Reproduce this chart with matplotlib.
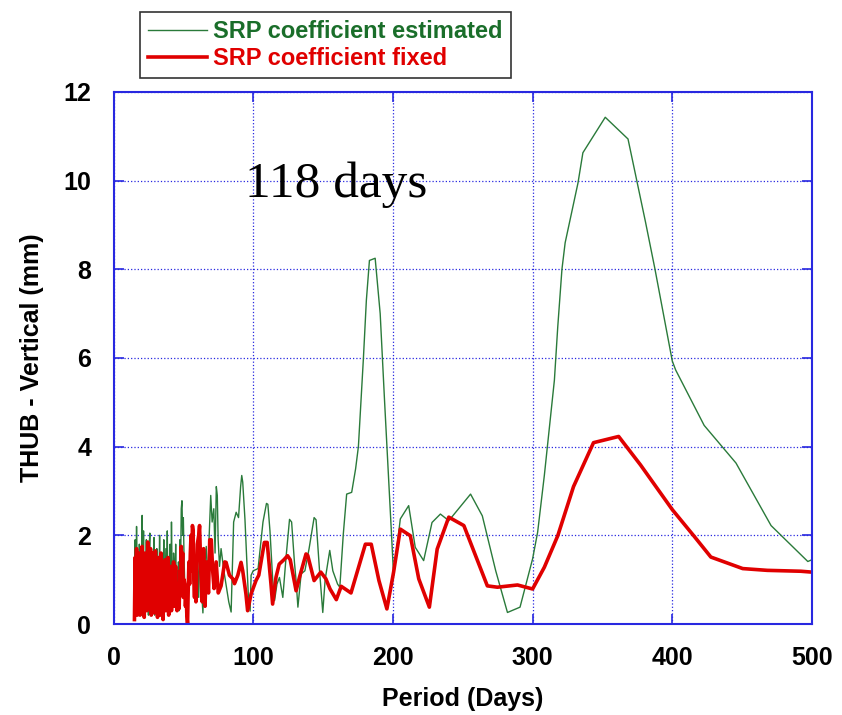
import numpy as np
import matplotlib.pyplot as plt

plt.rcParams['font.family'] = ['Liberation Sans', 'DejaVu Sans']

# dense part of the spectrum (15 - 60 days, every half day)
dense_start = 15.0
dense_step = 0.5
g_dense = [0.3, 1.9, 0.2, 2.2, 0.5, 1.4, 0.3, 1.8, 0.6, 1.2, 0.2, 2.45, 0.7, 2.1, 0.3, 1.5,
           0.9, 1.9, 0.4, 1.3, 0.2, 1.7, 2.05, 0.5, 1.2, 0.3, 1.6, 0.8, 1.95, 0.2, 1.1, 0.5,
           1.7, 0.3, 1.4, 0.9, 2.0, 0.4, 1.2, 0.15, 1.6, 0.7, 1.9, 0.3, 1.0, 1.7, 0.5, 2.1,
           0.2, 1.3, 0.6, 1.8, 0.3, 2.3, 1.0, 0.4, 1.6, 1.3, 0.7, 1.8, 0.5, 1.2, 0.6, 1.4,
           0.3, 1.9, 1.2, 2.6, 2.78, 2.0, 2.4, 1.5, 0.9, 0.5, 0.9, 0.3, 0.1, 0.6, 1.2, 1.0,
           1.5, 1.7, 1.4, 1.6, 1.1, 0.8, 1.3, 0.6, 1.2, 0.9, 1.6]
r_dense = [0.1, 1.5, 0.3, 1.7, 0.2, 1.2, 0.5, 1.6, 0.2, 1.3, 0.6, 1.75, 0.3, 1.4, 0.15, 1.6,
           0.5, 1.1, 0.3, 1.85, 0.4, 1.5, 0.8, 1.7, 0.2, 1.3, 0.6, 1.6, 0.25, 1.0, 1.65, 0.3,
           1.2, 0.15, 1.5, 0.6, 1.1, 0.2, 1.6, 0.5, 1.3, 0.1, 1.0, 0.4, 1.45, 0.3, 1.2, 0.7,
           1.5, 0.2, 0.9, 0.5, 1.3, 0.3, 1.0, 0.6, 1.4, 0.4, 0.9, 1.3, 0.6, 0.3, 0.9, 0.5,
           0.35, 1.2, 0.8, 1.75, 1.2, 1.6, 0.6, 1.0, 0.9, 0.4, 0.7, 0.2, 0.0, 0.8, 1.4, 0.9,
           1.6, 2.0, 1.2, 2.22, 2.1, 1.0, 0.6, 1.3, 0.5, 1.1, 1.8]

# sparse part (period, amplitude)
g_per = [61, 62, 63, 64, 65, 66.4, 67.5, 68.5, 69.6, 70.6, 71.8, 72.7, 73.6, 74.3, 74.9,
         75.9, 77, 79, 81, 82.5, 84.2, 86, 87.8, 89.5, 91, 91.8, 92.5, 94.1, 95.5, 96.5,
         97.8, 98.5, 100, 103.5, 107, 109.5, 110.5, 112, 114, 115.3, 117, 118.8, 121.2,
         123.5, 126, 127.5, 129.5, 130.7, 132, 134.3, 137, 140, 143.6, 145, 147.4, 149.8,
         151.5, 154.8, 157, 160.4, 162, 164.5, 166.9, 170.5, 173.3, 175.3, 177.2, 178.9,
         181, 183.2, 187.3, 190.9, 194, 197.6, 199.3, 200.5, 205.3, 211.3, 216, 222, 228,
         234, 240, 255.6, 264, 273.6, 282, 291, 300, 303.6, 308.4, 313.2, 315.6, 318,
         321, 323.3, 332.5, 336, 352, 368.3, 380.8, 387.5, 400, 402.4, 422.8, 445.6,
         470.7, 497, 500]
g_amp = [0.6, 2.0, 0.8, 0.25, 1.2, 1.75, 0.9, 2.0, 2.9, 2.3, 2.6, 1.6, 3.1, 2.9, 1.9,
         1.3, 1.7, 1.2, 0.8, 0.5, 0.27, 2.3, 2.52, 2.4, 3.1, 3.35, 3.2, 2.36, 1.4, 0.66,
         0.29, 1.1, 1.2, 1.25, 2.3, 2.72, 2.7, 2.1, 0.98, 0.53, 0.9, 1.05, 0.6,
         1.5, 2.36, 2.3, 1.4, 0.98, 0.38, 1.13, 1.2, 1.7, 2.4, 2.35, 1.24, 0.26,
         1.0, 1.66, 1.2, 0.9, 0.83, 2.03, 2.93, 2.97, 3.5, 4.0, 5.05, 6.0,
         7.3, 8.2, 8.25, 7.0, 5.05, 2.9, 1.84, 1.09, 2.37, 2.67, 1.73, 1.43, 2.29,
         2.48, 2.33, 2.93, 2.44, 1.2, 0.26, 0.38, 1.47, 2.07, 3.35, 4.77, 5.5, 6.7,
         8.0, 8.6, 9.95, 10.63, 11.43, 10.94, 9.07, 8.02, 5.93, 5.73, 4.48, 3.63,
         2.22, 1.41, 1.45]

r_per = [61, 61.6, 62.5, 63.5, 64.5, 65.5, 66.5, 68, 68.9, 70, 71, 72, 73.5, 75, 77,
         79.6, 80.6, 83, 85.4, 86.6, 89, 91.3, 92.5, 94.8, 96, 98.5, 102, 104, 108, 110,
         112.7, 113.9, 116.3, 118.6, 122, 124.6, 126.5, 130.7, 133.1, 137.8, 139, 143.6,
         148.4, 152, 155, 159.5, 163, 170, 180.3, 184.5, 190, 195.7, 200.5, 205.3, 212.5,
         218.5, 226.1, 231.7, 240, 250.8, 267.6, 274.8, 289.2, 300, 308.4, 318, 329.3,
         343.6, 361.6, 377.2, 400, 415.6, 427.6, 450.4, 468, 492, 500]
r_amp = [2.0, 2.22, 1.2, 0.5, 1.7, 0.4, 1.4, 0.7, 1.9, 1.9, 1.2, 0.8, 1.4, 0.7, 0.86,
         1.4, 1.39, 1.1, 1.02, 0.91, 1.1, 1.39, 1.2, 0.68, 0.3, 0.68, 0.98, 1.1, 1.84, 1.84,
         0.91, 0.45, 1.05, 1.35, 1.45, 1.54, 1.45, 0.75, 1.05, 1.58, 1.55, 0.98,
         1.17, 1.02, 0.79, 0.55, 0.85, 0.7, 1.8, 1.8, 0.98, 0.34, 1.17, 2.14, 1.99,
         1.02, 0.38, 1.69, 2.41, 2.22, 0.86, 0.83, 0.88, 0.79, 1.28, 1.99, 3.10,
         4.09, 4.23, 3.59, 2.58, 1.98, 1.51, 1.25, 1.21, 1.19, 1.17]

x_dense = dense_start + dense_step * np.arange(len(g_dense))
g_x = np.concatenate([x_dense, g_per])
g_y = np.concatenate([g_dense, g_amp])
r_x = np.concatenate([dense_start + dense_step * np.arange(len(r_dense)), r_per])
r_y = np.concatenate([r_dense, r_amp])

green = '#2a7a3a'
red = '#e00000'
blue = '#2828e0'

fig = plt.figure(figsize=(8.42, 7.15), dpi=100)
ax = fig.add_axes([113.5/842, 1-624/715, (812-113.5)/842, (624-92)/715])

ax.plot(g_x, g_y, '-', color=green, lw=1.0, label='SRP coefficient estimated')
ax.plot(r_x, r_y, '-', color=red, lw=2.6, label='SRP coefficient fixed')

ax.set_xlim(0, 500)
ax.set_ylim(0, 12)
ax.set_xticks([0, 100, 200, 300, 400, 500])
ax.set_yticks([0, 2, 4, 6, 8, 10, 12])
ax.grid(True, color=blue, linestyle=':', lw=0.9)
for s in ax.spines.values():
    s.set_color(blue)
    s.set_linewidth(1.5)
ax.tick_params(direction='in', length=7, width=1.2, color=blue,
               top=True, right=True, labelsize=18, pad=16)
for lab in ax.get_xticklabels() + ax.get_yticklabels():
    lab.set_fontweight('bold')

ax.set_xlabel('Period (Days)', fontsize=18, fontweight='bold', labelpad=12)
ax.set_ylabel('THUB - Vertical (mm)', fontsize=18, fontweight='bold', labelpad=14)

ax.text(94, 9.64, '118 days', family='Liberation Serif', fontsize=37, va='baseline')

leg = fig.legend(loc='upper left', bbox_to_anchor=(140/842, 1-12/715), fontsize=17,
                 frameon=True, fancybox=False, edgecolor='black', handlelength=2.5,
                 handletextpad=0.25, borderpad=0.35, labelspacing=0.15, borderaxespad=0)
leg.get_frame().set_linewidth(1.2)
for t, c in zip(leg.get_texts(), ['#1a6e2a', red]):
    t.set_color(c)
    t.set_fontweight('bold')

fig.savefig('out.png', dpi=100)
